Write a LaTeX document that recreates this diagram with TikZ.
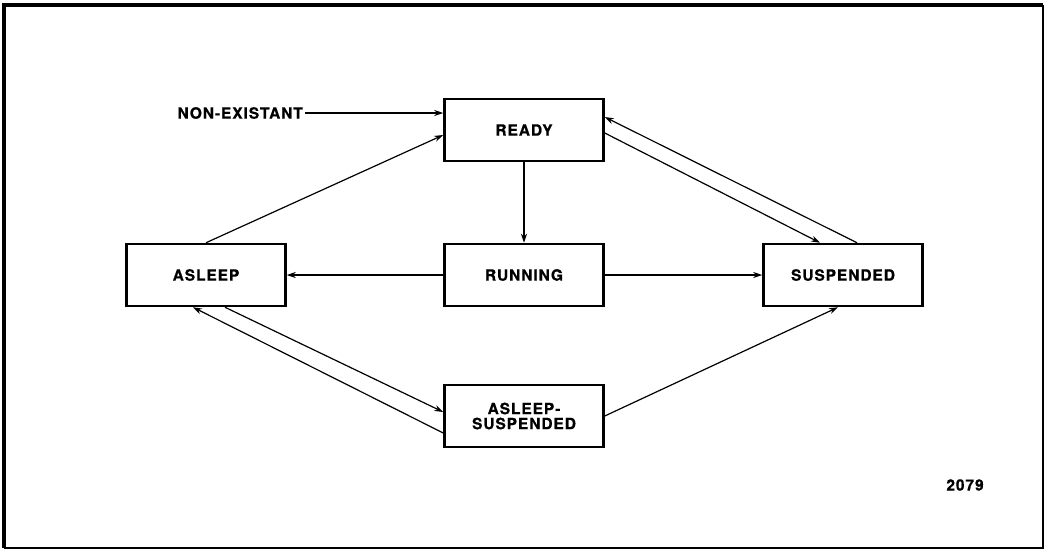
\documentclass[tikz,border=0pt]{standalone}
\usepackage{fontspec}
\newfontfamily\statefont[LetterSpace=6, BoldFeatures={FakeBold=0.6}]{TeX Gyre Heros}
\usetikzlibrary{arrows.meta}

\begin{document}
\begin{tikzpicture}[x=1pt, y=-1pt, >={Stealth[length=9pt,width=6pt]},
	state/.style={draw, line width=2.5pt, minimum width=159pt, minimum height=62pt, align=center, inner sep=0pt},
	txt/.style={font=\fontsize{15.5}{15}\statefont\bfseries},
	flow/.style={->, line width=1.2pt}]
	\useasboundingbox (0, 0) rectangle (1045, 550);
	\draw[line width=4pt] (4, 548) -- (4, 5) -- (1043, 5);
	\draw[line width=1.5pt] (4, 548) -- (1043, 548) -- (1043, 5);

	\node[state, txt] (ready) at (524, 130) {READY};
	\node[state, txt] (running) at (524, 275) {RUNNING};
	\node[state, txt] (asleep) at (206, 275) {ASLEEP};
	\node[state, txt] (suspended) at (843, 275) {SUSPENDED};
	\node[state, txt] (aslsusp) at (524, 416) {ASLEEP-\\SUSPENDED};
	\node[txt, anchor=east, inner sep=2pt] (nonexist) at (305, 113) {NON-EXISTANT};
	\node[txt] (fignum) at (965, 485) {2079};

	\draw[flow] (nonexist.east) -- (nonexist -| ready.west);
	\draw[flow] (asleep.north) -- ([yshift=-5pt]ready.west);
	\draw[flow] ([yshift=-3pt]ready.east) -- ([xshift=-23pt]suspended.north);
	\draw[flow] ([xshift=14pt]suspended.north) -- ([yshift=13pt]ready.east);
	\draw[flow] (ready.south) -- (running.north);
	\draw[flow] (running.west) -- (asleep.east);
	\draw[flow] (running.east) -- (suspended.west);
	\draw[flow] ([xshift=19pt]asleep.south) -- ([yshift=4pt]aslsusp.west);
	\draw[flow] ([yshift=-17pt]aslsusp.west) -- ([xshift=-13pt]asleep.south);
	\draw[flow] (aslsusp.east) -- ([xshift=-5pt]suspended.south);

\end{tikzpicture}
\end{document}
